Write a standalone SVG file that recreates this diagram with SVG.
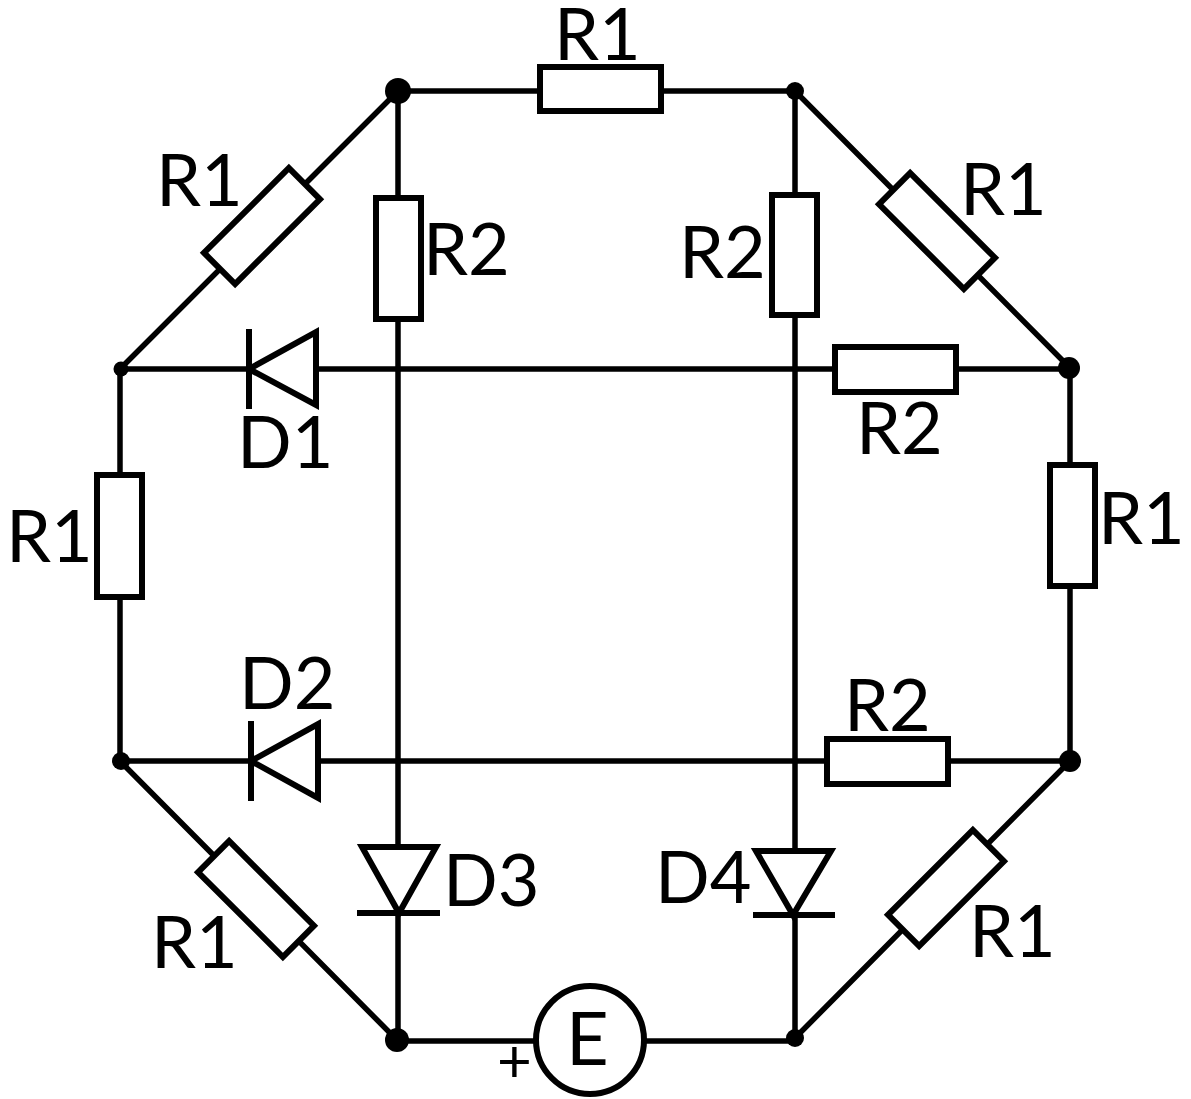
<svg xmlns="http://www.w3.org/2000/svg" width="1191" height="1099" viewBox="0 0 1191 1099">
<style>
.w{fill:none;stroke:#000;stroke-width:5.5}
.r{fill:#fff;stroke:#000;stroke-width:6}
.d{fill:#000}
text{font-family:Lato,"Open Sans","Noto Sans",sans-serif;font-size:72px;fill:#000}
</style>
<rect width="1191" height="1099" fill="#fff"/>
<g id="connectors">
<path class="w" d="M398 91H795L1070 368V761L795 1038M397 1040L120 761V369L398 91"/>
<path class="w" d="M398 91V1040M795 91V1038M120 369H1070M120 761H1070M397 1041H795"/>
</g>
<g id="R1-top"><rect class="r" x="540" y="67" width="121" height="44"/><text x="554" y="60">R1</text></g>
<g id="R1-upper-left"><rect class="r" x="-60" y="-22" width="120" height="44" transform="translate(262 226) rotate(-45)"/><text x="156" y="206">R1</text></g>
<g id="R1-upper-right"><rect class="r" x="-60" y="-22" width="120" height="44" transform="translate(937 231) rotate(45)"/><text x="960" y="215">R1</text></g>
<g id="R1-left"><rect class="r" x="97" y="475" width="45" height="122"/><text x="6" y="562">R1</text></g>
<g id="R1-right"><rect class="r" x="1050" y="465" width="45" height="121"/><text x="1098" y="544">R1</text></g>
<g id="R1-lower-left"><rect class="r" x="-60" y="-22" width="120" height="44" transform="translate(256 899) rotate(45)"/><text x="151" y="968">R1</text></g>
<g id="R1-lower-right"><rect class="r" x="-60" y="-22" width="120" height="44" transform="translate(946 888) rotate(-45)"/><text x="969" y="957">R1</text></g>
<g id="R2-a"><rect class="r" x="376" y="198" width="45" height="121"/><text x="423" y="275">R2</text></g>
<g id="R2-b"><rect class="r" x="772" y="195" width="45" height="120"/><text x="679" y="278">R2</text></g>
<g id="R2-c"><rect class="r" x="835" y="347" width="121" height="45"/><text x="856" y="454">R2</text></g>
<g id="R2-d"><rect class="r" x="827" y="739" width="121" height="45"/><text x="844" y="731">R2</text></g>
<g id="D1"><path class="r" d="M316 332V405L249 369ZM249 329V409"/><text x="237" y="468">D1</text></g>
<g id="D2"><path class="r" d="M318 724V798L251 761ZM251 721V801"/><text x="239" y="709">D2</text></g>
<g id="D3"><path class="r" d="M362 847H436L399 913ZM357 913H440"/><text x="443" y="906">D3</text></g>
<g id="D4"><path class="r" d="M756 851H831L793 915ZM753 915H835"/><text x="655" y="903">D4</text></g>
<g id="E"><circle class="r" cx="590" cy="1040" r="54"/><text x="566" y="1065" style="font-size:74px">E</text><text x="497" y="1082" style="font-size:60px">+</text></g>
<g id="junctions">
<circle class="d" cx="398" cy="91" r="13"/><circle class="d" cx="795" cy="91" r="9"/>
<circle class="d" cx="121" cy="369" r="7.5"/><circle class="d" cx="1069" cy="368" r="11"/>
<circle class="d" cx="121" cy="761" r="9"/><circle class="d" cx="1070" cy="761" r="11"/>
<circle class="d" cx="397" cy="1040" r="12"/><circle class="d" cx="795" cy="1038" r="9"/>
</g>
</svg>
